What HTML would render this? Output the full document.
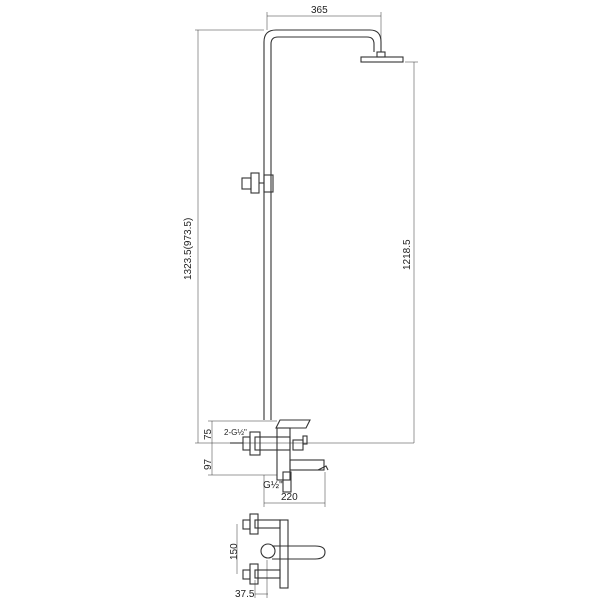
<!DOCTYPE html>
<html><head><style>body{margin:0;background:#fff}svg{display:block}text{font-family:"Liberation Sans",sans-serif;font-size:10px;fill:#222}</style></head><body>
<svg width="600" height="600" viewBox="0 0 600 600" fill="none" stroke="#333" stroke-width="1.1">
<!-- dims -->
<line x1="195" y1="30" x2="264" y2="30" stroke-width="0.5"/>
<line x1="198" y1="30" x2="198" y2="443" stroke-width="0.5"/>
<line x1="195" y1="443" x2="414" y2="443" stroke-width="0.5"/>
<line x1="405" y1="62" x2="418" y2="62" stroke-width="0.5"/>
<line x1="414" y1="62" x2="414" y2="443" stroke-width="0.5"/>
<line x1="267" y1="12" x2="267" y2="30" stroke-width="0.5"/>
<line x1="381" y1="12" x2="381" y2="50" stroke-width="0.5"/>
<line x1="267" y1="16" x2="381" y2="16" stroke-width="0.5"/>
<text x="311" y="13" stroke="none">365</text>
<text transform="translate(191,280) rotate(-90)" stroke="none">1323.5(973.5)</text>
<text transform="translate(410,270) rotate(-90)" stroke="none">1218.5</text>
<!-- pipe -->
<path d="M264 420 V42 Q264 30 276 30 H370 Q381 30 381 42 V52"/>
<path d="M271 420 V44 Q271 37 278 37 H367 Q374 37 374 44 V52"/>
<rect x="377" y="52" width="8" height="5"/>
<rect x="361" y="57" width="42" height="5"/>
<rect x="264" y="175" width="9" height="17"/>
<rect x="251" y="173" width="8" height="20"/>
<rect x="242" y="178" width="9" height="11"/>
<line x1="259" y1="183" x2="264" y2="183"/>
<!-- mixer -->
<line x1="212" y1="421" x2="212" y2="475" stroke-width="0.5"/>
<line x1="208" y1="421" x2="277" y2="421" stroke-width="0.5"/>
<line x1="208" y1="475" x2="277" y2="475" stroke-width="0.5"/>
<text transform="translate(211,440) rotate(-90)" stroke="none">75</text>
<text transform="translate(211,470) rotate(-90)" stroke="none">97</text>
<text x="224" y="435" stroke="none" style="font-size:8px">2-G½"</text>
<path d="M276 428 L280 420 H310 L306 428 Z"/>
<rect x="277" y="428" width="13" height="52"/>
<rect x="290" y="460" width="34" height="10"/>
<path d="M318 470 L326 466 L328 470"/>
<rect x="255" y="437" width="35" height="13"/>
<rect x="250" y="432" width="10" height="23"/>
<rect x="243" y="437" width="7" height="13"/>
<line x1="230" y1="443" x2="243" y2="443"/>
<rect x="293" y="440" width="10" height="10"/>
<rect x="303" y="436" width="4" height="8"/>
<rect x="283" y="472" width="8" height="20"/>
<line x1="264" y1="475" x2="264" y2="507" stroke-width="0.5"/>
<line x1="325" y1="472" x2="325" y2="507" stroke-width="0.5"/>
<line x1="264" y1="503" x2="325" y2="503" stroke-width="0.5"/>
<text x="263" y="488" stroke="none">G½"</text>
<text x="281" y="500" stroke="none">220</text>
<!-- bottom view -->
<rect x="280" y="520" width="8" height="68"/>
<rect x="255" y="520" width="25" height="8"/>
<rect x="250" y="514" width="8" height="20"/>
<rect x="243" y="520" width="7" height="9"/>
<rect x="255" y="570" width="25" height="8"/>
<rect x="250" y="564" width="8" height="20"/>
<rect x="243" y="570" width="7" height="9"/>
<circle cx="268" cy="551" r="7"/>
<path d="M272 546 H315 Q325 546 325 552 Q325 559 315 559 H272"/>
<line x1="237" y1="524" x2="237" y2="574" stroke-width="0.5"/>
<text transform="translate(237,560) rotate(-90)" stroke="none">150</text>
<line x1="255" y1="580" x2="255" y2="598" stroke-width="0.5"/>
<line x1="267" y1="560" x2="267" y2="598" stroke-width="0.5"/>
<line x1="255" y1="594" x2="268" y2="594" stroke-width="0.5"/>
<text x="235" y="597" stroke="none">37.5</text>
</svg>
</body></html>
